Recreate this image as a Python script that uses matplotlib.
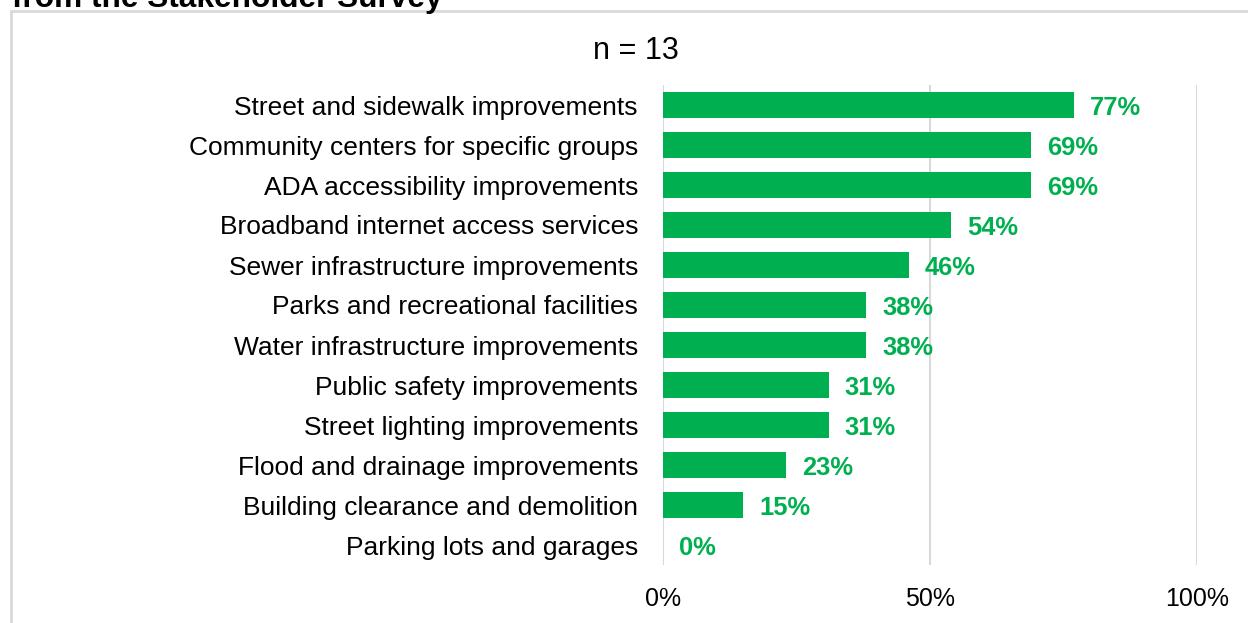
import matplotlib.pyplot as plt
from matplotlib.patches import Rectangle

# datos de la encuesta (de abajo hacia arriba)
categories = [
    "Parking lots and garages",
    "Building clearance and demolition",
    "Flood and drainage improvements",
    "Street lighting improvements",
    "Public safety improvements",
    "Water infrastructure improvements",
    "Parks and recreational facilities",
    "Sewer infrastructure improvements",
    "Broadband internet access services",
    "ADA accessibility improvements",
    "Community centers for specific groups",
    "Street and sidewalk improvements",
]
values = [0, 15, 23, 31, 31, 38, 38, 46, 54, 69, 69, 77]
xticks = [0, 50, 100]
green = "#00B050"

plt.rcParams['font.family'] = ['Liberation Sans', 'DejaVu Sans']

W, H = 1248, 623
fig = plt.figure(figsize=(W / 100, H / 100), dpi=100)

# borde gris del recuadro (cortado a la derecha y abajo)
fig.patches.append(Rectangle((11 / W, -0.1), 1.2, 1 - 11 / H + 0.1,
                             transform=fig.transFigure, fill=False,
                             edgecolor="#D9D9D9", linewidth=2))

fig.text(12 / W, 1 - 7 / H, "from the Stakeholder Survey", fontsize=22.8,
         fontweight="bold", va="baseline", ha="left")
fig.text(636 / W, 1 - 51 / H, "n = 13", fontsize=22, ha="center", va="center")

ax = fig.add_axes([663 / W, 1 - 565 / H, 534 / W, 480 / H])
ypos = list(range(len(categories)))
ax.barh(ypos, values, height=0.65, color=green, zorder=2)
for y, v in zip(ypos, values):
    ax.text(v + 3.0, y - 0.07, f"{v}%", color=green, fontsize=18.4,
            fontweight="bold", va="center", ha="left")

ax.set_xlim(0, 100)
ax.set_ylim(-0.5, len(categories) - 0.5)
ax.set_yticks(ypos)
ax.set_yticklabels(categories, fontsize=19)
ax.set_xticks(xticks)
ax.set_xticklabels([f"{t}%" for t in xticks], fontsize=18)
ax.tick_params(axis="both", length=0)
ax.tick_params(axis="y", pad=18)
ax.tick_params(axis="x", pad=16)
for s in ax.spines.values():
    s.set_visible(False)
for t in xticks:
    ax.axvline(t, color="#D9D9D9", linewidth=1.5, zorder=1)

fig.savefig("out.png", dpi=100)
